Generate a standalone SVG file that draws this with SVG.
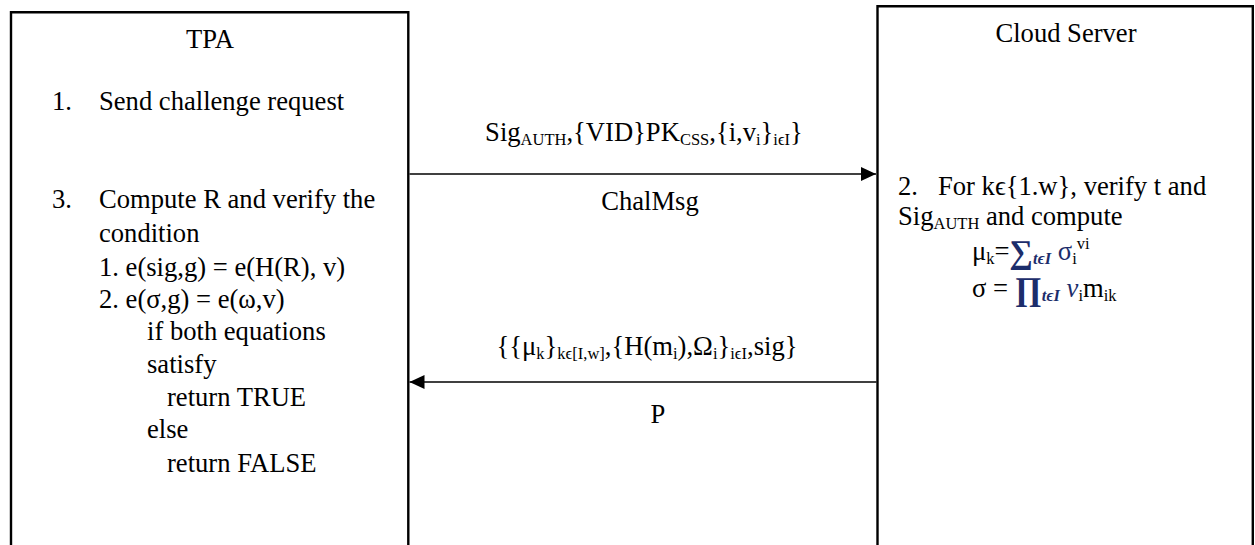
<svg xmlns="http://www.w3.org/2000/svg" width="1255" height="545" viewBox="0 0 1255 545">
  <style>
    text { font-family: "Liberation Serif", "Times New Roman", serif; font-size: 26.6px; fill: #000; }
    .sub { font-size: 16.5px; }
    .frame { fill: none; stroke: #000; stroke-width: 2.4; }
    .msg { fill: none; stroke: #000; stroke-width: 1.3; }
    .math { fill: #1c2d6b; }
    .op { fill: #1c2d6b; font-size: 33px; font-weight: bold; }
    .mi { font-style: italic; font-weight: bold; }
  </style>
  <defs>
    <marker id="head" viewBox="0 0 15 14" refX="15" refY="7" markerWidth="15" markerHeight="14" markerUnits="userSpaceOnUse" orient="auto">
      <path d="M0,0 L15,7 L0,14 Z" fill="#000"/>
    </marker>
  </defs>

  <!-- Third party auditor -->
  <g id="tpa">
    <path class="frame" d="M11,548 V12.2 H408.3 V548"/>
    <text x="210" y="48" text-anchor="middle">TPA</text>
    <text x="52" y="110">1.</text>
    <text x="99" y="110">Send challenge request</text>
    <text x="52" y="208">3.</text>
    <text x="99" y="208">Compute R and verify the</text>
    <text x="99" y="242">condition</text>
    <text x="99" y="276">1. e(sig,g) = e(H(R), v)</text>
    <text x="99" y="308">2. e(σ,g) = e(ω,v)</text>
    <text x="147" y="340">if both equations</text>
    <text x="147" y="373">satisfy</text>
    <text x="167" y="406">return TRUE</text>
    <text x="147" y="438">else</text>
    <text x="167" y="472">return FALSE</text>
  </g>

  <!-- Cloud storage server -->
  <g id="cloud-server">
    <path class="frame" d="M877.5,548 V6.2 H1252.8 V548"/>
    <text x="1066" y="42" text-anchor="middle">Cloud Server</text>
    <text x="898" y="195">2.</text>
    <text x="938" y="195">For kϵ{1.w}, verify t and</text>
    <text x="898" y="225">Sig<tspan class="sub" dy="4">AUTH</tspan><tspan dy="-4"> and compute</tspan></text>
    <text x="972" y="260">μ<tspan class="sub" dy="4">k</tspan><tspan dy="-4">=</tspan><tspan class="op" dy="3">∑</tspan><tspan class="math mi sub" dy="1">tϵI</tspan><tspan class="math" dy="-4"> σ</tspan><tspan class="sub" dy="4">i</tspan><tspan class="sub" dy="-15">vi</tspan></text>
    <text x="972" y="297">σ = <tspan class="op" dy="3">∏</tspan><tspan class="math mi sub" dy="1">tϵI</tspan><tspan class="math" dy="-4" font-style="italic"> v</tspan><tspan class="sub" dy="4">i</tspan><tspan dy="-4">m</tspan><tspan class="sub" dy="4">ik</tspan></text>
  </g>

  <!-- Messages exchanged between the auditor and the server -->
  <g id="connectors">
    <path class="msg" d="M409.5,174 H876" marker-end="url(#head)"/>
    <text x="644" y="141" text-anchor="middle">Sig<tspan class="sub" dy="4">AUTH</tspan><tspan dy="-4">,{VID}PK</tspan><tspan class="sub" dy="4">CSS</tspan><tspan dy="-4">,{i,v</tspan><tspan class="sub" dy="4">i</tspan><tspan dy="-4">}</tspan><tspan class="sub" dy="4">iϵI</tspan><tspan dy="-4">}</tspan></text>
    <text x="650" y="210" text-anchor="middle">ChalMsg</text>

    <path class="msg" d="M876.5,382 H409.5" marker-end="url(#head)"/>
    <text x="647" y="355" text-anchor="middle">{{μ<tspan class="sub" dy="4">k</tspan><tspan dy="-4">}</tspan><tspan class="sub" dy="4">kϵ[I,w]</tspan><tspan dy="-4">,{H(m</tspan><tspan class="sub" dy="4">i</tspan><tspan dy="-4">),Ω</tspan><tspan class="sub" dy="4">i</tspan><tspan dy="-4">}</tspan><tspan class="sub" dy="4">iϵI</tspan><tspan dy="-4">,sig}</tspan></text>
    <text x="658" y="423" text-anchor="middle">P</text>
  </g>
</svg>
